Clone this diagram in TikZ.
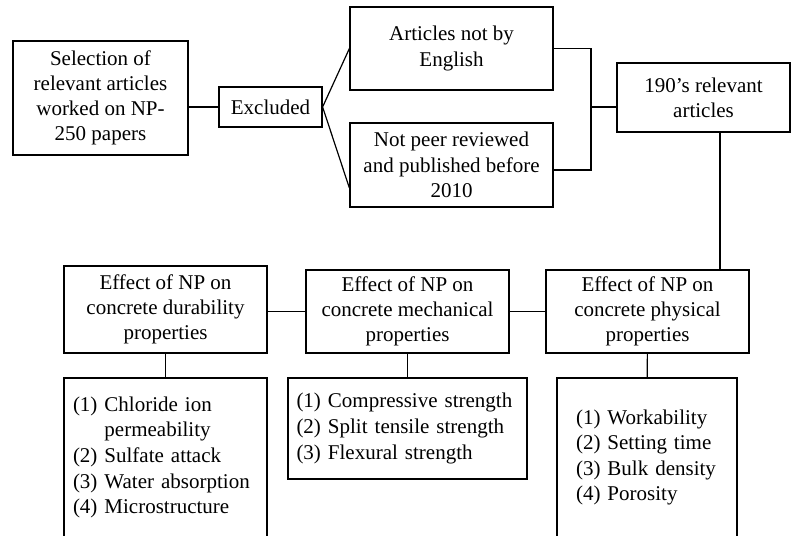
\documentclass[tikz,border=0pt]{standalone}
\usepackage{fontspec}
\setmainfont{Liberation Serif}
\usetikzlibrary{positioning}

\begin{document}
\begin{tikzpicture}[x=0.5pt,y=-0.5pt,line width=0.6pt,
  box node/.style={rectangle,draw,fill=white,align=center,inner sep=2pt,
    font=\fontsize{10.5}{12.6}\selectfont},
  list node/.style={rectangle,draw,fill=white,align=left,inner ysep=2pt,
    font=\fontsize{10.5}{12.8}\selectfont}]

 \useasboundingbox (0,0) rectangle (791,535);
 \clip (0,0) rectangle (791,535);

 % top row
 \node[box node,minimum width=87.5pt,minimum height=57pt] (sel) at (100.5,98)
   {Selection of\\relevant articles\\worked on NP-\\250 papers};
 \node[box node,minimum width=51.5pt,minimum height=20pt] (excl) at (270.5,107) {Excluded};
 \node[box node,minimum width=101.5pt,minimum height=41.5pt] (eng) at (451.5,48.5)
   {Articles not by\\English};
 \node[box node,minimum width=101.5pt,minimum height=42pt] (peer) at (451.5,165)
   {Not peer reviewed\\and published before\\2010};
 \node[box node,minimum width=86.5pt,minimum height=34.5pt] (rel) at (703.5,97.5)
   {190’s relevant\\articles};

 % effect boxes
 \node[box node,minimum width=101.5pt,minimum height=43.5pt] (dur) at (165.5,309.5)
   {Effect of NP on\\concrete durability\\properties};
 \node[box node,minimum width=101.5pt,minimum height=41.5pt] (mech) at (407.5,311.5)
   {Effect of NP on\\concrete mechanical\\properties};
 \node[box node,minimum width=101.5pt,minimum height=41.5pt] (phys) at (647.5,311.5)
   {Effect of NP on\\concrete physical\\properties};

 % lists
 \node[list node,inner xsep=4.5pt,text width=92.5pt,minimum height=79.5pt] (durl) at (165.5,457.5)
   {(1) Chloride ion\\\phantom{(1) }permeability\\(2) Sulfate attack\\(3) Water absorption\\(4) Microstructure};
 \node[list node,inner xsep=4.25pt,text width=111pt,minimum height=50.5pt] (mechl) at (407.5,428.5)
   {(1) Compressive strength\\(2) Split tensile strength\\(3) Flexural strength};
 \node[list node,inner xsep=9.5pt,text width=71pt,minimum height=79.5pt] (physl) at (647,457.5)
   {(1) Workability\\(2) Setting time\\(3) Bulk density\\(4) Porosity};

 \coordinate (brk) at (591,107);

 \path[draw]
    (sel.east |- excl.west)	edge (excl.west)
    (excl.east)	edge (eng.west)
    (excl.east)	edge ([yshift=-11.5pt]peer.west)
    (brk)	edge (brk -| rel.west)
    (mech.west -| dur.east)	edge (mech.west)
    (phys.west -| mech.east)	edge (phys.west)
    (dur)	edge (durl)
    (mech)	edge (mechl)
    (phys)	edge (physl);

 \draw (eng.east) -| (brk) |- ([yshift=-2.5pt]peer.east);
 \draw ([xshift=8.25pt]rel.south) -- ([xshift=8.25pt]rel.south |- phys.north);

\end{tikzpicture}
\end{document}
